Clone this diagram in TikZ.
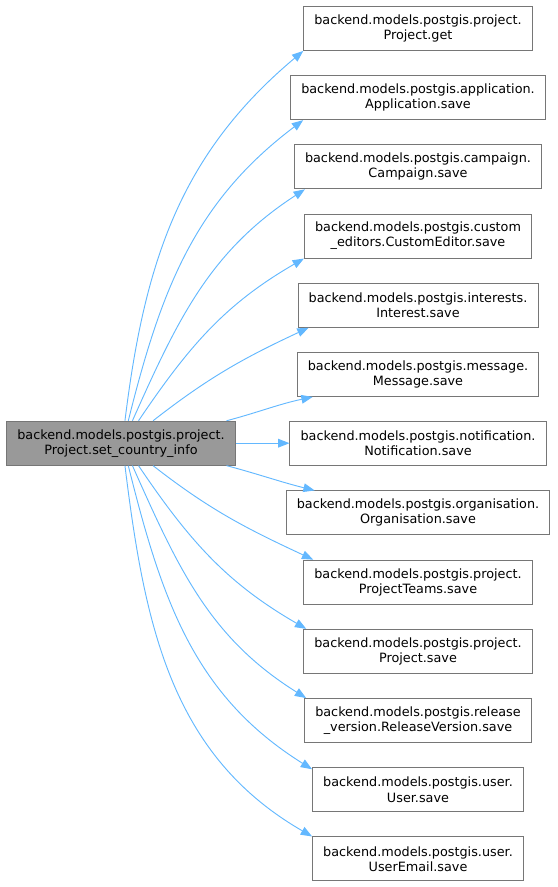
\documentclass[tikz,border=0pt]{standalone}
\usepackage{fontspec}
\setmainfont{DejaVu Sans}
\usetikzlibrary{arrows.meta,calc}
\definecolor{edgeB}{RGB}{99,184,255}
\definecolor{boxG}{RGB}{118,118,118}
\definecolor{curG}{RGB}{153,153,153}

\begin{document}
\begin{tikzpicture}[x=0.75pt, y=0.75pt, font=\fontsize{9.6}{11.3}\selectfont,
  >={Triangle[length=8.5pt,width=6.5pt]},
  fn/.style={rectangle, draw=boxG, fill=white, line width=0.65pt, minimum height=33pt, inner xsep=8pt, inner ysep=2pt, align=center},
  cur/.style={fn, fill=curG},
  cl/.style={->, draw=edgeB, line width=0.7pt}]
  \useasboundingbox (0,0) rectangle (557,-887);
  % caller
  \node[cur] (src) at (121,-443.2) {backend.models.postgis.project.\\Project.set\_country\_info};
  % callees
  \node[fn] (get) at (418,-28.5) {backend.models.postgis.project.\\Project.get};
  \node[fn] (app) at (418,-97.7) {backend.models.postgis.application.\\Application.save};
  \node[fn] (camp) at (418,-166.9) {backend.models.postgis.campaign.\\Campaign.save};
  \node[fn] (cedit) at (418,-236.1) {backend.models.postgis.custom\\\_editors.CustomEditor.save};
  \node[fn] (intr) at (418,-305.3) {backend.models.postgis.interests.\\Interest.save};
  \node[fn] (msg) at (418,-374.5) {backend.models.postgis.message.\\Message.save};
  \node[fn] (notif) at (418,-443.2) {backend.models.postgis.notification.\\Notification.save};
  \node[fn] (org) at (418,-512.9) {backend.models.postgis.organisation.\\Organisation.save};
  \node[fn] (pteams) at (418,-582.1) {backend.models.postgis.project.\\ProjectTeams.save};
  \node[fn] (psave) at (418,-651.3) {backend.models.postgis.project.\\Project.save};
  \node[fn] (rel) at (418,-720.5) {backend.models.postgis.release\\\_version.ReleaseVersion.save};
  \node[fn] (user) at (418,-789.7) {backend.models.postgis.user.\\User.save};
  \node[fn] (uemail) at (418,-858.9) {backend.models.postgis.user.\\UserEmail.save};
  % calls
  \draw[cl] (src.80) to[out=83,in=220] (get.south west);
  \draw[cl] (src.72) to[out=76,in=217] ($(app.south west)+(13,0)$);
  \draw[cl] (src.63) to[out=66,in=213] ($(camp.south west)+(11,0)$);
  \draw[cl] (src.52) to[out=56,in=210] (cedit.south west);
  \draw[cl] (src.35) to[out=38,in=205] ($(intr.south west)+(11,0)$);
  \draw[cl] (src.12) to[out=15,in=192] ($(msg.south west)+(16,0)$);
  \draw[cl] (src.east) -- (notif.west);
  \draw[cl] (src.-12) to[out=-15,in=166] ($(org.north west)+(29,0)$);
  \draw[cl] (src.-35) to[out=-38,in=155] ($(pteams.north west)+(10,0)$);
  \draw[cl] (src.-52) to[out=-56,in=150] ($(psave.north west)+(3,0)$);
  \draw[cl] (src.-63) to[out=-66,in=148] ($(rel.north west)+(2,0)$);
  \draw[cl] (src.-72) to[out=-76,in=148] ($(user.north west)+(0,-2)$);
  \draw[cl] (src.-80) to[out=-83,in=150] (uemail.north west);
\end{tikzpicture}
\end{document}
